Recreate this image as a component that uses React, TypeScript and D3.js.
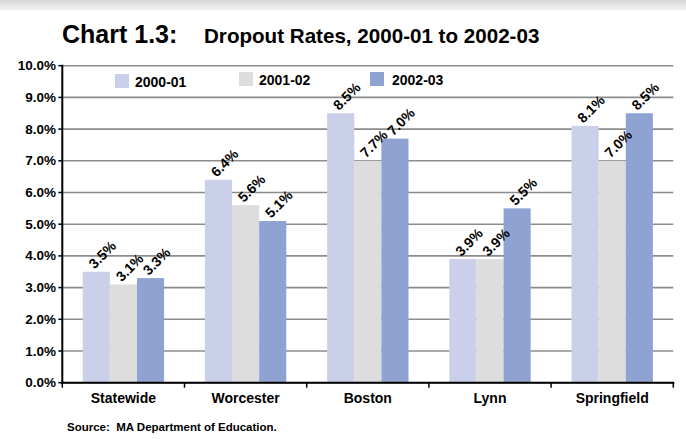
import React from "react";
import * as d3 from "d3";

const categories = ["Statewide", "Worcester", "Boston", "Lynn", "Springfield"];
const seriesNames = ["2000-01", "2001-02", "2002-03"];
const values2000 = [3.5, 6.4, 8.5, 3.9, 8.1];
const values2001 = [3.1, 5.6, 7.0, 3.9, 7.0];
const values2002 = [3.3, 5.1, 7.7, 5.5, 8.5];
const labels2000 = ["3.5%", "6.4%", "8.5%", "3.9%", "8.1%"];
const labels2001 = ["3.1%", "5.6%", "7.7%", "3.9%", "7.0%"];
const labels2002 = ["3.3%", "5.1%", "7.0%", "5.5%", "8.5%"];
const yTicks = [0, 1, 2, 3, 4, 5, 6, 7, 8, 9, 10];
const colors = ["#CBD0EA", "#DDDDDD", "#8FA3D3"];

const W = 686;
const H = 439;
const FONT = "'Liberation Sans', Arial, Helvetica, sans-serif";

export default function App() {
  const left = 62.3;
  const right = 673.3;
  const top = 65.7;
  const bottom = 382.7;

  const x = d3.scaleBand<string>().domain(categories).range([left, right]).paddingInner(0).paddingOuter(0);
  const bw = x.bandwidth();
  const groupW = bw * 0.666;
  const inner = d3.scaleBand<string>().domain(seriesNames).range([0, groupW]).padding(0);
  const y = d3.scaleLinear().domain([0, 10]).range([bottom, top]);

  const series = [
    { name: seriesNames[0], values: values2000, labels: labels2000, color: colors[0] },
    { name: seriesNames[1], values: values2001, labels: labels2001, color: colors[1] },
    { name: seriesNames[2], values: values2002, labels: labels2002, color: colors[2] },
  ];

  const legendPos = [
    { sx: 115, sy: 74, tx: 135, ty: 86.5 },
    { sx: 239, sy: 72, tx: 259, ty: 84.5 },
    { sx: 370, sy: 72, tx: 392, ty: 84.5 },
  ];

  return (
    <svg
      width={W}
      height={H}
      style={{ position: "absolute", left: 0, top: 0, background: "#fff" }}
      fontFamily={FONT}
    >
      <defs>
        <linearGradient id="topband" x1="0" y1="0" x2="0" y2="1">
          <stop offset="0" stopColor="#d6d6d6" />
          <stop offset="1" stopColor="#f2f2f2" />
        </linearGradient>
      </defs>
      <rect x={0} y={0} width={W} height={10} fill="url(#topband)" />

      <text x={62} y={43} fontSize={25} fontWeight="bold" fill="#000">
        Chart 1.3:
      </text>
      <text x={204} y={43} fontSize={20.6} fontWeight="bold" fill="#000">
        Dropout Rates, 2000-01 to 2002-03
      </text>

      {/* gridlines */}
      {yTicks.map((t) => (
        <line key={"g" + t} x1={left} x2={right} y1={y(t)} y2={y(t)} stroke="#8c8c8c" strokeWidth={1.6} />
      ))}

      {/* bars */}
      {series.map((s) =>
        categories.map((c, ci) => {
          const bx = (x(c) as number) + (bw - groupW) / 2 + (inner(s.name) as number);
          return (
            <rect
              key={s.name + c}
              x={bx}
              y={y(s.values[ci])}
              width={inner.bandwidth()}
              height={bottom - y(s.values[ci])}
              fill={s.color}
            />
          );
        })
      )}

      {/* data labels */}
      {series.map((s) =>
        categories.map((c, ci) => {
          const bx = (x(c) as number) + (bw - groupW) / 2 + (inner(s.name) as number) + inner.bandwidth() / 2;
          const cy = y(s.values[ci]) - 17;
          return (
            <g key={"l" + s.name + c} transform={`translate(${bx + 6},${cy}) rotate(-45)`}>
              <text
                x={0}
                y={5}
                textAnchor="middle"
                fontSize={14}
                fontWeight="bold"
                fill="#000"
              >
                {s.labels[ci]}
              </text>
            </g>
          );
        })
      )}

      {/* y axis */}
      <line x1={left} x2={left} y1={top - 1} y2={bottom + 1} stroke="#000" strokeWidth={2} />
      {yTicks.map((t) => (
        <g key={"yt" + t}>
          <line x1={left - 4} x2={left} y1={y(t)} y2={y(t)} stroke="#000" strokeWidth={1.5} />
          <text
            x={56}
            y={y(t)}
            textAnchor="end"
            dominantBaseline="central"
            fontSize={13.5}
            fontWeight="bold"
            fill="#000"
          >
            {d3.format(".1f")(t) + "%"}
          </text>
        </g>
      ))}

      {/* x axis */}
      <line x1={left - 1} x2={right + 1} y1={bottom} y2={bottom} stroke="#000" strokeWidth={2} />
      {categories.map((c) => (
        <line key={"xt" + c} x1={x(c) as number} x2={x(c) as number} y1={bottom} y2={bottom + 5} stroke="#000" strokeWidth={1.5} />
      ))}
      <line x1={right} x2={right} y1={bottom} y2={bottom + 5} stroke="#000" strokeWidth={1.5} />
      {categories.map((c) => (
        <text
          key={"xl" + c}
          x={(x(c) as number) + bw / 2}
          y={403}
          textAnchor="middle"
          fontSize={14}
          fontWeight="bold"
          fill="#000"
        >
          {c}
        </text>
      ))}

      {/* legend */}
      {series.map((s, i) => (
        <g key={"lg" + s.name}>
          <rect x={legendPos[i].sx} y={legendPos[i].sy} width={14} height={14} fill={s.color} />
          <text x={legendPos[i].tx} y={legendPos[i].ty} fontSize={14} fontWeight="bold" fill="#000">
            {s.name}
          </text>
        </g>
      ))}

      <text x={67} y={431} fontSize={11.5} fontWeight="bold" fill="#000" style={{ whiteSpace: "pre" }}>
        {"Source:\u00a0\u00a0MA Department of Education."}
      </text>
    </svg>
  );
}
